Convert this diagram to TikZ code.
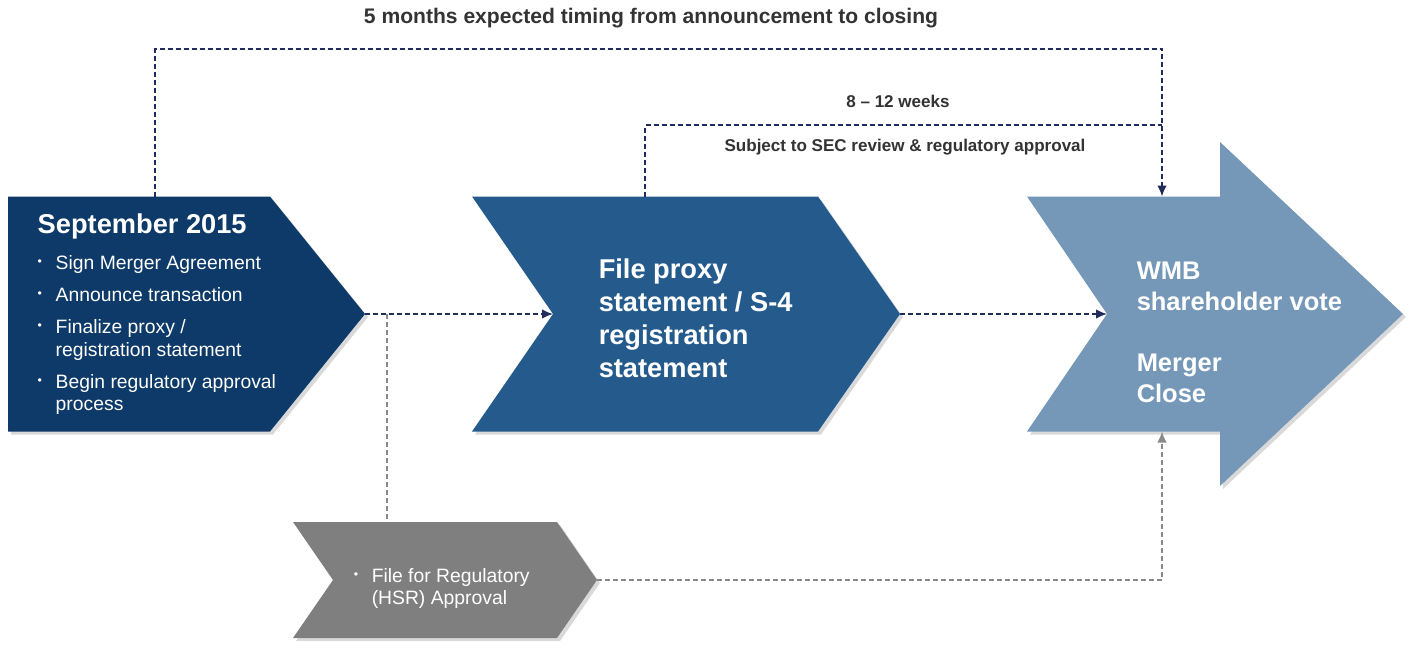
\documentclass[tikz,border=0pt]{standalone}
\usepackage{fontspec}
\setmainfont{Liberation Sans}
\usetikzlibrary{arrows.meta, positioning, shadows}
\definecolor{cnavy}{HTML}{0D3A68}
\definecolor{cblue}{HTML}{255B8C}
\definecolor{csteel}{HTML}{7598B8}
\definecolor{cgrey}{HTML}{7F7F7F}
\definecolor{cline}{HTML}{1F2C5C}
\definecolor{clinegrey}{HTML}{8A8A8A}
\definecolor{ctext}{HTML}{333333}
\newcommand{\itm}{\makebox[0.36cm][l]{\raisebox{0.4ex}{\fontsize{7}{7}\selectfont\textbullet}}}
\newcommand{\ind}{\hspace*{0.36cm}}
\tikzset{
  every picture/.style={line width=0.85pt},
  stage/.style={fill=#1, drop shadow={shadow xshift=0.06cm, shadow yshift=-0.06cm, opacity=0.3}},
  lbl/.style={font=\bfseries\fontsize{9.7}{11}\selectfont, text=ctext},
  flow/.style={draw=cline, dash pattern=on 1mm off 0.6mm},
  arrowtip/.style={-{Latex[length=2.2mm, width=1.9mm]}},
  stagetitle/.style={font=\bfseries\fontsize{15.5}{18.7}\selectfont, text=white, align=left, inner sep=0pt},
  items/.style={font=\fontsize{11}{13}\selectfont, text=white, align=left, inner sep=0pt},
}

\begin{document}
\begin{tikzpicture}
  \useasboundingbox (0,0) rectangle (28.28,-12.96);
  % the four stages
  \fill[stage=cnavy] (0.16,-3.93) -- (5.40,-3.93) -- (7.30,-6.28) coordinate (sep-tip)
    -- (5.40,-8.63) -- (0.16,-8.63) -- cycle;
  \fill[stage=cblue] (9.44,-3.93) -- (16.36,-3.93) -- (18.00,-6.28) coordinate (proxy-tip)
    -- (16.36,-8.63) -- (9.44,-8.63) -- (11.06,-6.28) coordinate (proxy-in) -- cycle;
  \fill[stage=csteel] (20.54,-3.93) -- (24.40,-3.93) -- (24.40,-2.84) -- (28.06,-6.28)
    -- (24.40,-9.72) -- (24.40,-8.63) -- (20.54,-8.63) -- (22.14,-6.28) coordinate (vote-in) -- cycle;
  \fill[stage=cgrey] (5.86,-10.44) -- (11.14,-10.44) -- (11.94,-11.60) coordinate (hsr-tip)
    -- (11.14,-12.76) -- (5.86,-12.76) -- (6.66,-11.60) -- cycle;
  % ends of the connectors
  \coordinate (sep-top) at (3.10,-3.93);
  \coordinate (proxy-top) at (12.90,-3.93);
  \coordinate (vote-top) at (23.24,-3.93);
  \coordinate (vote-bot) at (23.24,-8.63);
  \coordinate (join) at (23.24,-2.50);
  \coordinate (split) at (7.74,-6.28);
  \coordinate (hsr-top) at (7.74,-10.44);
  % texts in the stages
  \node[stagetitle, anchor=west] (sep-head) at (0.74,-4.52) {September 2015};
  \node[items, anchor=north west] (sep-items) at (0.74,-5.10)
    {\itm Sign Merger Agreement\\[0.18cm]
     \itm Announce transaction\\[0.18cm]
     \itm Finalize proxy /\\ \ind registration statement\\[0.18cm]
     \itm Begin regulatory approval\\ \ind process};
  \node[stagetitle, anchor=north west] (proxy) at (11.96,-5.16)
    {File proxy\\statement / S-4\\registration\\statement};
  \node[stagetitle, font=\bfseries\fontsize{14.5}{17.5}\selectfont, anchor=north west] (vote) at (22.72,-5.22)
    {WMB\\shareholder vote\\[0.62cm]Merger\\Close};
  \node[items, font=\fontsize{11}{12.5}\selectfont, anchor=north west] (hsr) at (7.06,-11.36)
    {\itm File for Regulatory\\ \ind (HSR) Approval};
  % timing labels
  \node[lbl, font=\bfseries\fontsize{12}{14}\selectfont] (timing) at (13.02,-0.36)
    {5 months expected timing from announcement to closing};
  \node[lbl] (weeks) at (17.96,-2.02) {8 -- 12 weeks};
  \node[lbl] (review) at (18.10,-2.94) {Subject to SEC review \& regulatory approval};
  % connectors
  \draw[flow, arrowtip] (sep-top) -- ++(0,2.95) -| (vote-top);
  \draw[flow] (proxy-top) |- (join);
  \draw[flow, arrowtip] (sep-tip) -- (proxy-in);
  \draw[flow, arrowtip] (proxy-tip) -- (vote-in);
  \draw[flow, draw=clinegrey] (split) -- (hsr-top);
  \draw[flow, draw=clinegrey, arrowtip] (hsr-tip) -| (vote-bot);
\end{tikzpicture}
\end{document}
